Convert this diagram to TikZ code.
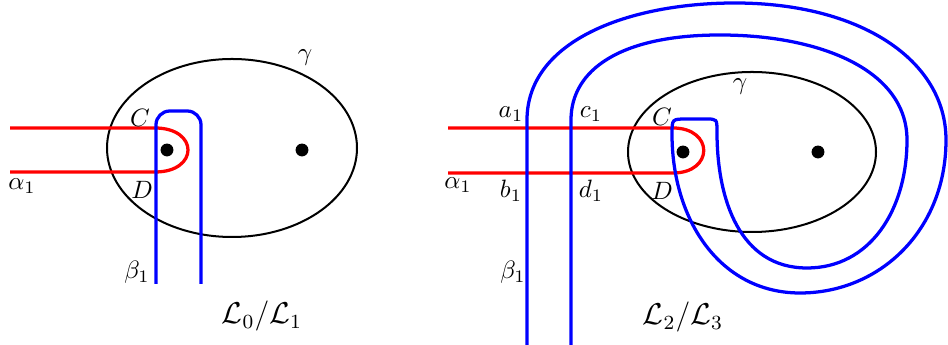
\documentclass[tikz,border=0pt]{standalone}
\usepackage{amsmath}
\usepackage{amssymb}
\usetikzlibrary{positioning}

\begin{document}
\begin{tikzpicture}[
  x=0.014cm, y=-0.014cm,
  gam/.style   = {draw=black, line width=0.8pt},
  alph/.style  = {draw=red, line width=1.3pt},
  bet/.style   = {draw=blue, line width=1.3pt},
  pt/.style    = {circle, fill=black, inner sep=0pt, minimum size=0.18cm},
  lbl/.style   = {inner sep=0pt},
  title/.style = {inner sep=0pt, font=\large},
]
\useasboundingbox (0,0) rectangle (948,345);

\draw[gam] (232,148) ellipse [x radius=125, y radius=89];
\node[pt] (pa) at (167,150) {};
\node[pt] (pb) at (302,150) {};
\draw[alph] (10,128) -- (155,128) .. controls (199,128) and (199,172) .. (155,172) -- (10,172);
\draw[bet, rounded corners=5.5pt] (156,284) -- (156,111) -- (201,111) -- (201,284);
\node[lbl] (cA)   at (140,118) {$C$};
\node[lbl] (dA)   at (142,190) {$D$};
\node[lbl] (alA)  at (22,186)  {$\alpha_1$};
\node[lbl] (beA)  at (137,272) {$\beta_1$};
\node[lbl] (gaA)  at (305,58)  {$\gamma$};
\node[title] (capA) at (262,316) {$\mathcal{L}_0/\mathcal{L}_1$};

\draw[gam] (752,152) ellipse [x radius=124, y radius=80];
\node[pt] (pc) at (683,152) {};
\node[pt] (pd) at (818,152) {};
\draw[alph] (448,128) -- (673,128) .. controls (714,128) and (714,173) .. (673,173) -- (448,173);
\draw[bet] (527,345) -- (527,120)
  .. controls (527,40) and (630,3) .. (735,3)
  .. controls (860,3) and (946,60) .. (946,140)
  .. controls (946,230) and (880,293) .. (800,293)
  .. controls (720,293) and (672,220) .. (672,134)
  .. controls (672,119) .. (687,119) -- (706,119)
  .. controls (717,119) .. (717,132)
  .. controls (717,200) and (740,268) .. (807,268)
  .. controls (870,268) and (907,210) .. (907,140)
  .. controls (907,70) and (820,35) .. (720,35)
  .. controls (620,35) and (571,70) .. (571,120) -- (571,345);
\node[lbl] (a1)   at (511,114) {$a_1$};
\node[lbl] (c1)   at (591,114) {$c_1$};
\node[lbl] (b1)   at (511,191) {$b_1$};
\node[lbl] (d1)   at (591,191) {$d_1$};
\node[lbl] (cB)   at (662,117) {$C$};
\node[lbl] (dB)   at (662,191) {$D$};
\node[lbl] (alB)  at (458,185) {$\alpha_1$};
\node[lbl] (beB)  at (513,272) {$\beta_1$};
\node[lbl] (gaB)  at (740,87)  {$\gamma$};
\node[title] (capB) at (683,317) {$\mathcal{L}_2/\mathcal{L}_3$};
\end{tikzpicture}
\end{document}
